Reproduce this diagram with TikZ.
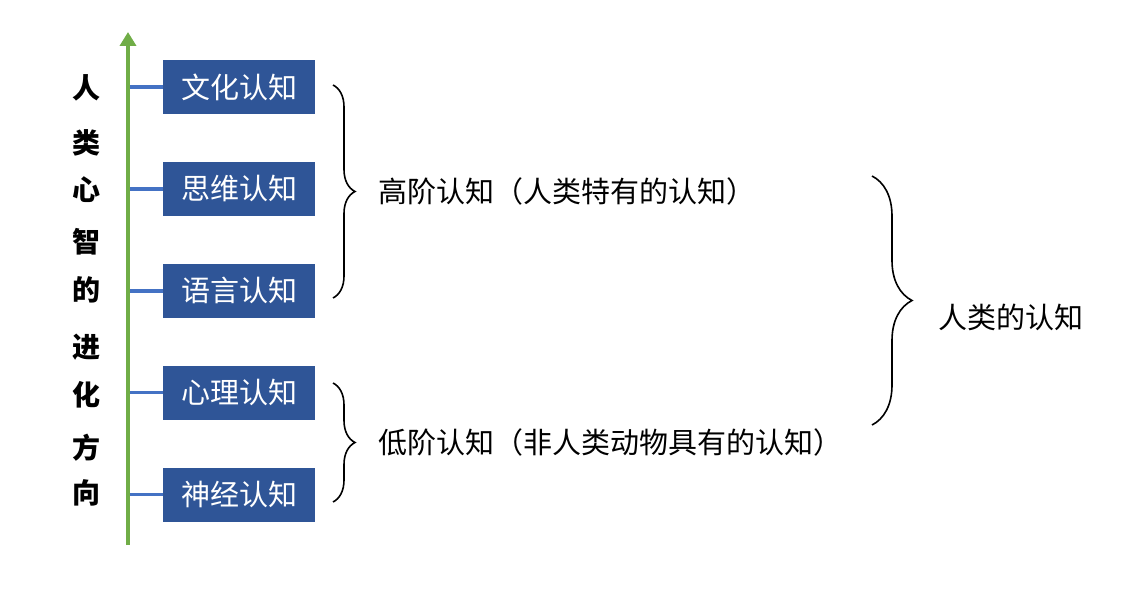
\documentclass[tikz,border=0pt]{standalone}
\usepackage{fontspec}
\setmainfont{Noto Sans CJK SC}
\usetikzlibrary{positioning,arrows.meta,decorations.pathreplacing}
\definecolor{boxblue}{HTML}{2F5597}
\definecolor{linkblue}{HTML}{4472C4}
\definecolor{evogreen}{HTML}{70AD47}

\begin{document}
\begin{tikzpicture}[
            x=1pt, y=1pt,
            >={Triangle[width=16pt,length=14pt]},
            level/.style={fill=boxblue, text=white, rectangle, inner sep=0pt,
                            minimum height=54pt, minimum width=152pt,
                            font=\fontsize{29}{29}\selectfont},
            link/.style={draw=linkblue, line width=3.5pt},
            evo/.style={draw=evogreen, line width=4pt, ->},
            brace/.style={draw, line width=1.6pt, decorate,
                            decoration={brace, amplitude=#1}},
            brace/.default=22pt,
            note/.style={font=\fontsize{29}{29}\selectfont, inner sep=0pt},
            mind/.style={font=\fontsize{28}{28}\selectfont\bfseries, inner sep=0pt}
        ]

            \useasboundingbox (0,0) rectangle (1135,-609);

            \node[level] (culture) at (239,-87) {文化认知};
            \node[level, below=47.5pt of culture] (thinking) {思维认知};
            \node[level, below=47.5pt of thinking] (language) {语言认知};
            \node[level, below=47.5pt of language] (psych) {心理认知};
            \node[level, below=47.5pt of psych] (neuro) {神经认知};

            \coordinate (axisfoot) at (128,-545);
            \coordinate (axistop) at (128,-32);

            \foreach \b in {culture,thinking,language,psych,neuro}
                \draw[link] (\b.west -| axisfoot) -- (\b.west);
            \draw[evo] (axisfoot) -- (axistop);

            \foreach \c/\y [count=\i] in {人/88,类/143,心/190,智/242,的/290,进/347,化/395,方/448,向/493}
                \node[mind] (mind\i) at (86,-\y) {\c};

            \coordinate (highTop) at (333,-85);
            \coordinate (highBot) at (333,-298);
            \coordinate (lowTop) at (333,-383);
            \coordinate (lowBot) at (333,-502);
            \coordinate (allTop) at (872,-176);
            \coordinate (allBot) at (872,-425);

            \draw[brace] (highTop) -- node[note, right=45pt] (high) {高阶认知（人类特有的认知）} (highBot);
            \draw[brace] (lowTop) -- node[note, right=45pt] (low) {低阶认知（非人类动物具有的认知）} (lowBot);
            \draw[brace=40pt] (allTop) -- node[note, right=66pt, yshift=-17pt] (human) {人类的认知} (allBot);

        \end{tikzpicture}
\end{document}
